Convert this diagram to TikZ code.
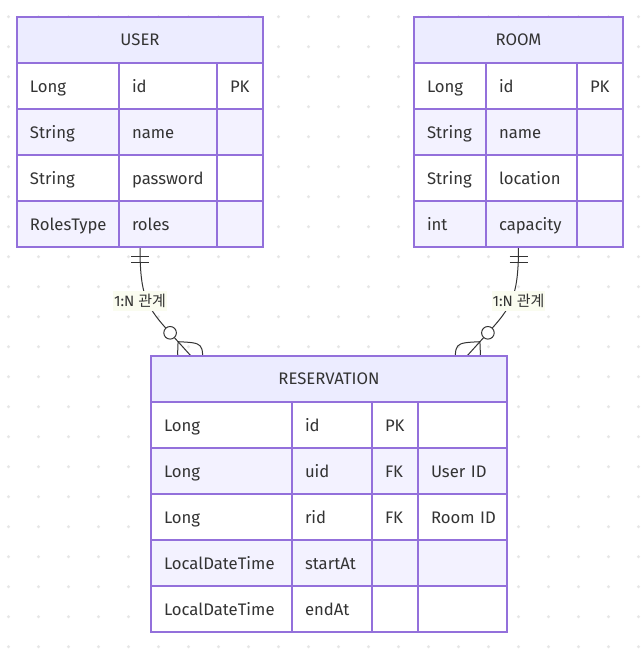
\documentclass[tikz,border=0pt]{standalone}
\usepackage{fontspec}
\setmainfont{Fira Sans}
\newfontfamily\kor{Noto Sans CJK KR}
\usetikzlibrary{calc}

\definecolor{erline}{HTML}{9370DB}
\definecolor{erhead}{HTML}{ECECFF}
\definecolor{erevenrow}{HTML}{F3F2FF}
\definecolor{ertext}{HTML}{333333}
\definecolor{relline}{HTML}{333333}
\definecolor{griddot}{HTML}{E6E6E6}
\definecolor{lblback}{HTML}{FAFCF0}

\tikzset{
  entity/.style={draw=erline, line width=1.5pt, anchor=north west, outer sep=0pt, inner sep=0pt},
  head/.style={entity, fill=erhead, minimum height=46pt, text=ertext, text height=15pt, text depth=3.6pt, font=\fontsize{16.7}{20}\selectfont},
  attr/.style={entity, minimum height=46pt, inner xsep=13pt, align=left, text=ertext, text height=15pt, text depth=1.6pt, font=\fontsize{16.7}{20}\selectfont},
  oddrow/.style={attr, fill=white},
  evenrow/.style={attr, fill=erevenrow},
  rel/.style={draw=relline, line width=1pt},
  rellabel/.style={fill=lblback, text=ertext, inner xsep=1pt, inner ysep=3pt, font=\fontsize{15}{18}\selectfont},
}

\begin{document}
\begin{tikzpicture}[x=1pt, y=-1pt]
\useasboundingbox (0,0) rectangle (643,651);
\fill[white] (0,0) rectangle (643,651);
% dotted canvas
\foreach \i in {0,...,21} {
  \foreach \j in {0,...,21} {
    \fill[griddot] (8.5+30*\i,16.7+30*\j) circle (1.6);
  }
}

% entities (outer frames)
\node[entity, minimum width=246pt, minimum height=230pt] (user) at (17,17) {};
\node[entity, minimum width=209pt, minimum height=230pt] (room) at (414,17) {};
\node[entity, minimum width=356pt, minimum height=276pt] (res) at (151,356) {};

% relationships
\coordinate (ue) at ($(res.north)+(-138,0)$);
\coordinate (uv) at ($(ue)+(-12.9,-14.3)$);
\coordinate (re) at ($(res.north)+(138,0)$);
\coordinate (rv) at ($(re)+(12.9,-14.3)$);
\draw[rel] (user.south) .. controls +(0,55) and +(-30,-33) .. (uv) -- (ue);
\draw[rel] (room.south) .. controls +(0,55) and +(30,-33) .. (rv) -- (re);
\draw[rel] ($(user.south)+(-9,9)$) -- +(18,0);
\draw[rel] ($(user.south)+(-9,15)$) -- +(18,0);
\draw[rel] ($(room.south)+(-9,9)$) -- +(18,0);
\draw[rel] ($(room.south)+(-9,15)$) -- +(18,0);
\draw[rel] (uv) .. controls ($(uv)+(-1.2,25.4)$) .. ($(uv)+(24.1,26.6)$);
\draw[rel] (uv) .. controls ($(uv)+(25.4,1.2)$) .. ($(uv)+(24.1,26.6)$);
\draw[rel, fill=white] ($(uv)+(-8,-8.9)$) circle (6.3);
\draw[rel] (rv) .. controls ($(rv)+(1.2,25.4)$) .. ($(rv)+(-24.1,26.6)$);
\draw[rel] (rv) .. controls ($(rv)+(-25.4,1.2)$) .. ($(rv)+(-24.1,26.6)$);
\draw[rel, fill=white] ($(rv)+(8,-8.9)$) circle (6.3);

% USER
\node[head, minimum width=246pt] (user-h) at (17,17) {USER};
\node[oddrow, text width=76pt] (user-1a) at (17,63) {Long};
\node[oddrow, text width=72pt] (user-1b) at (119,63) {id};
\node[oddrow, text width=20pt] (user-1c) at (217,63) {PK};
\node[evenrow, text width=76pt] (user-2a) at (17,109) {String};
\node[evenrow, text width=72pt] (user-2b) at (119,109) {name};
\node[evenrow, text width=20pt] (user-2c) at (217,109) {};
\node[oddrow, text width=76pt] (user-3a) at (17,155) {String};
\node[oddrow, text width=72pt] (user-3b) at (119,155) {password};
\node[oddrow, text width=20pt] (user-3c) at (217,155) {};
\node[evenrow, text width=76pt] (user-4a) at (17,201) {RolesType};
\node[evenrow, text width=72pt] (user-4b) at (119,201) {roles};
\node[evenrow, text width=20pt] (user-4c) at (217,201) {};

% ROOM
\node[head, minimum width=209pt] (room-h) at (414,17) {ROOM};
\node[oddrow, text width=46pt] (room-1a) at (414,63) {Long};
\node[oddrow, text width=65pt] (room-1b) at (486,63) {id};
\node[oddrow, text width=20pt] (room-1c) at (577,63) {PK};
\node[evenrow, text width=46pt] (room-2a) at (414,109) {String};
\node[evenrow, text width=65pt] (room-2b) at (486,109) {name};
\node[evenrow, text width=20pt] (room-2c) at (577,109) {};
\node[oddrow, text width=46pt] (room-3a) at (414,155) {String};
\node[oddrow, text width=65pt] (room-3b) at (486,155) {location};
\node[oddrow, text width=20pt] (room-3c) at (577,155) {};
\node[evenrow, text width=46pt] (room-4a) at (414,201) {int};
\node[evenrow, text width=65pt] (room-4b) at (486,201) {capacity};
\node[evenrow, text width=20pt] (room-4c) at (577,201) {};

% RESERVATION
\node[head, minimum width=356pt] (res-h) at (151,356) {RESERVATION};
\node[oddrow, text width=115pt] (res-1a) at (151,402) {Long};
\node[oddrow, text width=54pt] (res-1b) at (292,402) {id};
\node[oddrow, text width=20pt] (res-1c) at (372,402) {PK};
\node[oddrow, text width=63pt] (res-1d) at (418,402) {};
\node[evenrow, text width=115pt] (res-2a) at (151,448) {Long};
\node[evenrow, text width=54pt] (res-2b) at (292,448) {uid};
\node[evenrow, text width=20pt] (res-2c) at (372,448) {FK};
\node[evenrow, text width=63pt] (res-2d) at (418,448) {User~ID};
\node[oddrow, text width=115pt] (res-3a) at (151,494) {Long};
\node[oddrow, text width=54pt] (res-3b) at (292,494) {rid};
\node[oddrow, text width=20pt] (res-3c) at (372,494) {FK};
\node[oddrow, text width=63pt] (res-3d) at (418,494) {Room~ID};
\node[evenrow, text width=115pt] (res-4a) at (151,540) {LocalDateTime};
\node[evenrow, text width=54pt] (res-4b) at (292,540) {startAt};
\node[evenrow, text width=20pt] (res-4c) at (372,540) {};
\node[evenrow, text width=63pt] (res-4d) at (418,540) {};
\node[oddrow, text width=115pt] (res-5a) at (151,586) {LocalDateTime};
\node[oddrow, text width=54pt] (res-5b) at (292,586) {endAt};
\node[oddrow, text width=20pt] (res-5c) at (372,586) {};
\node[oddrow, text width=63pt] (res-5d) at (418,586) {};

% relationship labels
\node[rellabel] (user-res) at ($(user.south)+(0,54)$) {1:N {\kor 관계}};
\node[rellabel] (room-res) at ($(room.south)+(0,54)$) {1:N {\kor 관계}};
\end{tikzpicture}
\end{document}
